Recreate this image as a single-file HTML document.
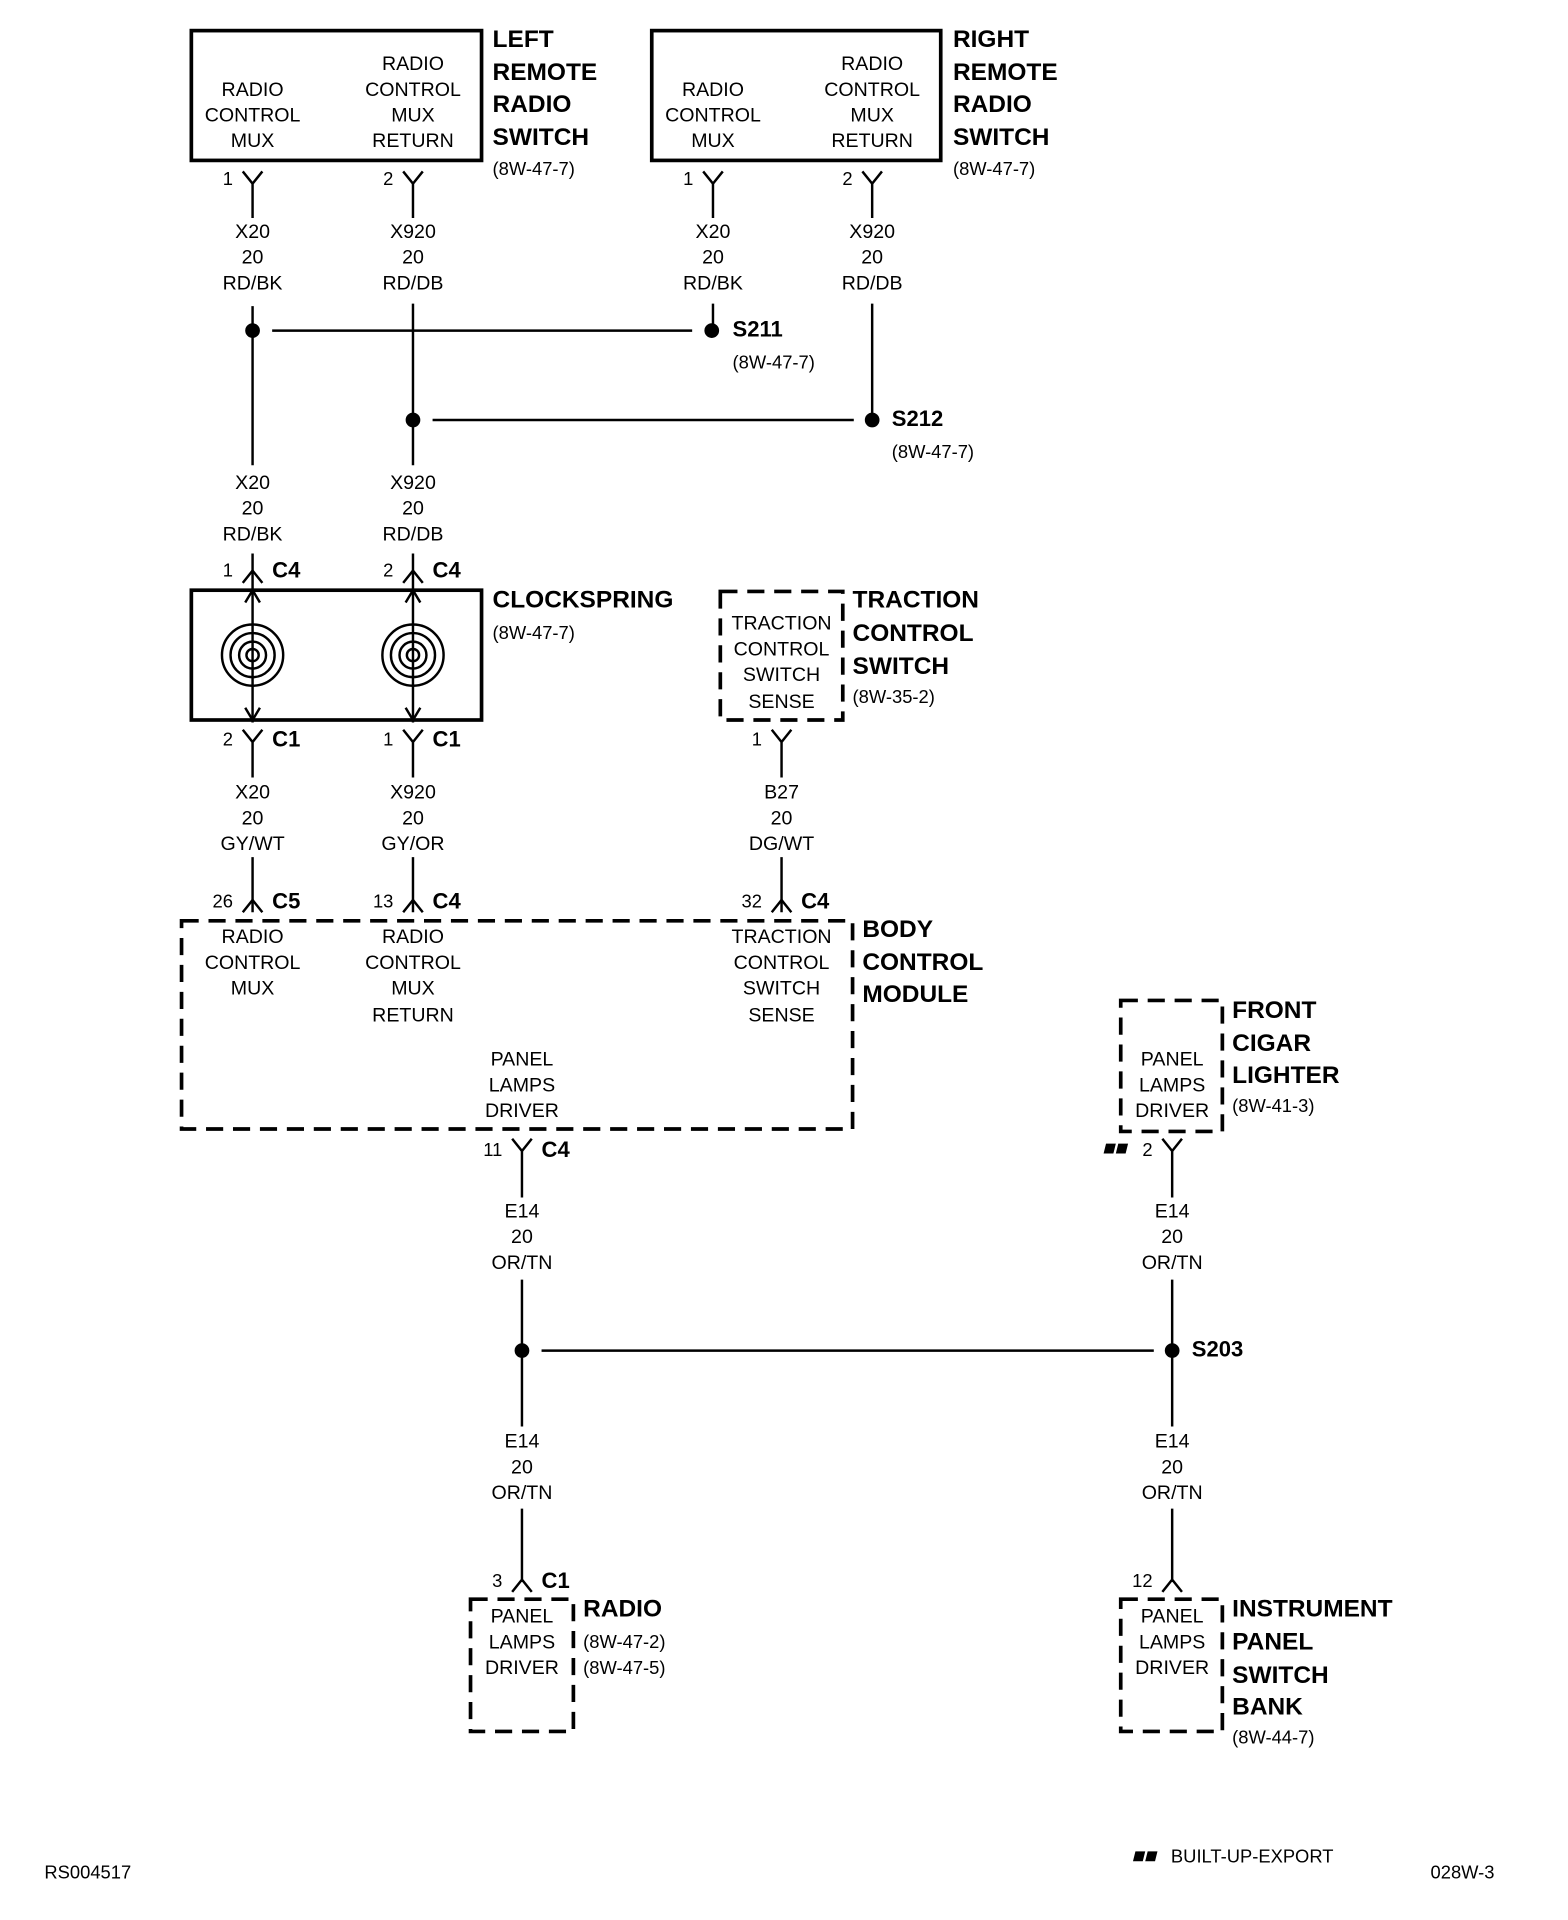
<!DOCTYPE html>
<html><head><meta charset="utf-8"><style>
html,body{margin:0;padding:0;background:#fff}
svg{display:block}
text{font-family:"Liberation Sans Narrow","Liberation Sans",sans-serif;fill:#000;dominant-baseline:middle}
.t{font-size:16px;text-anchor:middle}
.b{font-family:"Liberation Sans","DejaVu Sans",sans-serif;font-weight:bold;font-size:20px}
.r{font-size:15px}
.p{font-size:15px;text-anchor:end}
.c{font-family:"Liberation Sans",sans-serif;font-weight:bold;font-size:18px}
</style></head><body>
<svg width="1568" height="1920" viewBox="0 0 1280 1568" xmlns="http://www.w3.org/2000/svg">
<g stroke="#000" stroke-width="3" fill="none">
<rect x="156" y="25" width="237" height="106"/>
<rect x="532" y="25" width="236" height="106"/>
<rect x="156" y="482" width="237" height="106"/>
<g stroke-dasharray="14,8">
<rect x="588" y="483" width="100" height="105"/>
<rect x="148" y="752" width="548" height="170"/>
<rect x="915" y="817" width="83" height="107"/>
<rect x="384" y="1306" width="84" height="108"/>
<rect x="915" y="1306" width="83" height="108"/>
</g>
</g>
<g stroke="#000" stroke-width="2" fill="none">
<path d="M198 140L206 150L214 140M206 150V178M206 250V380M206 452V466"/>
<path d="M329 140L337 150L345 140M337 150V178M337 248V380M337 452V466"/>
<path d="M574 140L582 150L590 140M582 150V178M582 248V270"/>
<path d="M704 140L712 150L720 140M712 150V178M712 248V343"/>
<path d="M222 270H565M353 343H697"/>
<path d="M198 476L206 466L214 476M329 476L337 466L345 476"/>
<path d="M206 466V590M337 466V590"/>
<path d="M200 492L206 482L212 492M331 492L337 482L343 492M200 578L206 588L212 578M331 578L337 588L343 578"/>
<path d="M198 596L206 606L214 596M206 606V635M206 700V745"/>
<path d="M329 596L337 606L345 596M337 606V635M337 700V745"/>
<path d="M630 596L638 606L646 596M638 606V635M638 700V745"/>
<path d="M198 745L206 735L214 745M329 745L337 735L345 745M630 745L638 735L646 745"/>
<path d="M418 930L426 940L434 930M426 940V978M426 1045V1165M426 1232V1292M418 1300L426 1290L434 1300"/>
<path d="M949 930L957 940L965 930M957 940V978M957 1045V1165M957 1232V1292M949 1300L957 1290L965 1300"/>
<path d="M442 1103H942"/>
<circle cx="206" cy="535" r="25"/><circle cx="206" cy="535" r="18"/><circle cx="206" cy="535" r="11"/><circle cx="206" cy="535" r="5"/>
<circle cx="337" cy="535" r="25"/><circle cx="337" cy="535" r="18"/><circle cx="337" cy="535" r="11"/><circle cx="337" cy="535" r="5"/>
</g>
<g fill="#000">
<circle cx="206" cy="270" r="6"/><circle cx="581" cy="270" r="6"/>
<circle cx="337" cy="343" r="6"/><circle cx="712" cy="343" r="6"/>
<circle cx="426" cy="1103" r="6"/><circle cx="957" cy="1103" r="6"/>
<path d="M903 934h8l-2 8h-8zM913 934h8l-2 8h-8z"/>
<path d="M927 1512h8l-2 8h-8zM937 1512h8l-2 8h-8z"/>
</g>
<text class="t" x="206" y="74">RADIO</text><text class="t" x="206" y="95">CONTROL</text><text class="t" x="206" y="116">MUX</text>
<text class="t" x="337" y="53">RADIO</text><text class="t" x="337" y="74">CONTROL</text><text class="t" x="337" y="95">MUX</text><text class="t" x="337" y="116">RETURN</text>
<text class="b" x="402" y="33">LEFT</text><text class="b" x="402" y="60">REMOTE</text><text class="b" x="402" y="86">RADIO</text><text class="b" x="402" y="113">SWITCH</text>
<text class="r" x="402" y="139">(8W-47-7)</text>
<text class="t" x="582" y="74">RADIO</text><text class="t" x="582" y="95">CONTROL</text><text class="t" x="582" y="116">MUX</text>
<text class="t" x="712" y="53">RADIO</text><text class="t" x="712" y="74">CONTROL</text><text class="t" x="712" y="95">MUX</text><text class="t" x="712" y="116">RETURN</text>
<text class="b" x="778" y="33">RIGHT</text><text class="b" x="778" y="60">REMOTE</text><text class="b" x="778" y="86">RADIO</text><text class="b" x="778" y="113">SWITCH</text>
<text class="r" x="778" y="139">(8W-47-7)</text>
<text class="p" x="190" y="147">1</text><text class="p" x="321" y="147">2</text><text class="p" x="566" y="147">1</text><text class="p" x="696" y="147">2</text>
<text class="t" x="206" y="190">X20</text><text class="t" x="206" y="211">20</text><text class="t" x="206" y="232">RD/BK</text>
<text class="t" x="337" y="190">X920</text><text class="t" x="337" y="211">20</text><text class="t" x="337" y="232">RD/DB</text>
<text class="t" x="582" y="190">X20</text><text class="t" x="582" y="211">20</text><text class="t" x="582" y="232">RD/BK</text>
<text class="t" x="712" y="190">X920</text><text class="t" x="712" y="211">20</text><text class="t" x="712" y="232">RD/DB</text>
<text class="c" x="598" y="270">S211</text><text class="r" x="598" y="297">(8W-47-7)</text>
<text class="c" x="728" y="343">S212</text><text class="r" x="728" y="370">(8W-47-7)</text>
<text class="t" x="206" y="395">X20</text><text class="t" x="206" y="416">20</text><text class="t" x="206" y="437">RD/BK</text>
<text class="t" x="337" y="395">X920</text><text class="t" x="337" y="416">20</text><text class="t" x="337" y="437">RD/DB</text>
<text class="p" x="190" y="467">1</text><text class="c" x="222" y="467">C4</text>
<text class="p" x="321" y="467">2</text><text class="c" x="353" y="467">C4</text>
<text class="b" x="402" y="491">CLOCKSPRING</text><text class="r" x="402" y="518">(8W-47-7)</text>
<text class="t" x="638" y="510">TRACTION</text><text class="t" x="638" y="531">CONTROL</text><text class="t" x="638" y="552">SWITCH</text><text class="t" x="638" y="574">SENSE</text>
<text class="b" x="696" y="491">TRACTION</text><text class="b" x="696" y="518">CONTROL</text><text class="b" x="696" y="545">SWITCH</text><text class="r" x="696" y="570">(8W-35-2)</text>
<text class="p" x="190" y="605">2</text><text class="c" x="222" y="605">C1</text>
<text class="p" x="321" y="605">1</text><text class="c" x="353" y="605">C1</text>
<text class="p" x="622" y="605">1</text>
<text class="t" x="206" y="648">X20</text><text class="t" x="206" y="669">20</text><text class="t" x="206" y="690">GY/WT</text>
<text class="t" x="337" y="648">X920</text><text class="t" x="337" y="669">20</text><text class="t" x="337" y="690">GY/OR</text>
<text class="t" x="638" y="648">B27</text><text class="t" x="638" y="669">20</text><text class="t" x="638" y="690">DG/WT</text>
<text class="p" x="190" y="737">26</text><text class="c" x="222" y="737">C5</text>
<text class="p" x="321" y="737">13</text><text class="c" x="353" y="737">C4</text>
<text class="p" x="622" y="737">32</text><text class="c" x="654" y="737">C4</text>
<text class="t" x="206" y="766">RADIO</text><text class="t" x="206" y="787">CONTROL</text><text class="t" x="206" y="808">MUX</text>
<text class="t" x="337" y="766">RADIO</text><text class="t" x="337" y="787">CONTROL</text><text class="t" x="337" y="808">MUX</text><text class="t" x="337" y="830">RETURN</text>
<text class="t" x="638" y="766">TRACTION</text><text class="t" x="638" y="787">CONTROL</text><text class="t" x="638" y="808">SWITCH</text><text class="t" x="638" y="830">SENSE</text>
<text class="b" x="704" y="760">BODY</text><text class="b" x="704" y="787">CONTROL</text><text class="b" x="704" y="813">MODULE</text>
<text class="t" x="426" y="866">PANEL</text><text class="t" x="426" y="887">LAMPS</text><text class="t" x="426" y="908">DRIVER</text>
<text class="t" x="957" y="866">PANEL</text><text class="t" x="957" y="887">LAMPS</text><text class="t" x="957" y="908">DRIVER</text>
<text class="b" x="1006" y="826">FRONT</text><text class="b" x="1006" y="853">CIGAR</text><text class="b" x="1006" y="879">LIGHTER</text><text class="r" x="1006" y="904">(8W-41-3)</text>
<text class="p" x="410" y="940">11</text><text class="c" x="442" y="940">C4</text>
<text class="p" x="941" y="940">2</text>
<text class="t" x="426" y="990">E14</text><text class="t" x="426" y="1011">20</text><text class="t" x="426" y="1032">OR/TN</text>
<text class="t" x="957" y="990">E14</text><text class="t" x="957" y="1011">20</text><text class="t" x="957" y="1032">OR/TN</text>
<text class="c" x="973" y="1103">S203</text>
<text class="t" x="426" y="1178">E14</text><text class="t" x="426" y="1199">20</text><text class="t" x="426" y="1220">OR/TN</text>
<text class="t" x="957" y="1178">E14</text><text class="t" x="957" y="1199">20</text><text class="t" x="957" y="1220">OR/TN</text>
<text class="p" x="410" y="1292">3</text><text class="c" x="442" y="1292">C1</text>
<text class="p" x="941" y="1292">12</text>
<text class="t" x="426" y="1321">PANEL</text><text class="t" x="426" y="1342">LAMPS</text><text class="t" x="426" y="1363">DRIVER</text>
<text class="b" x="476" y="1315">RADIO</text><text class="r" x="476" y="1342">(8W-47-2)</text><text class="r" x="476" y="1363">(8W-47-5)</text>
<text class="t" x="957" y="1321">PANEL</text><text class="t" x="957" y="1342">LAMPS</text><text class="t" x="957" y="1363">DRIVER</text>
<text class="b" x="1006" y="1315">INSTRUMENT</text><text class="b" x="1006" y="1342">PANEL</text><text class="b" x="1006" y="1369">SWITCH</text><text class="b" x="1006" y="1395">BANK</text><text class="r" x="1006" y="1420">(8W-44-7)</text>
<text class="r" x="36" y="1530">RS004517</text>
<text class="r" x="956" y="1517">BUILT-UP-EXPORT</text>
<text class="r" x="1168" y="1530">028W-3</text>
</svg>
</body></html>
